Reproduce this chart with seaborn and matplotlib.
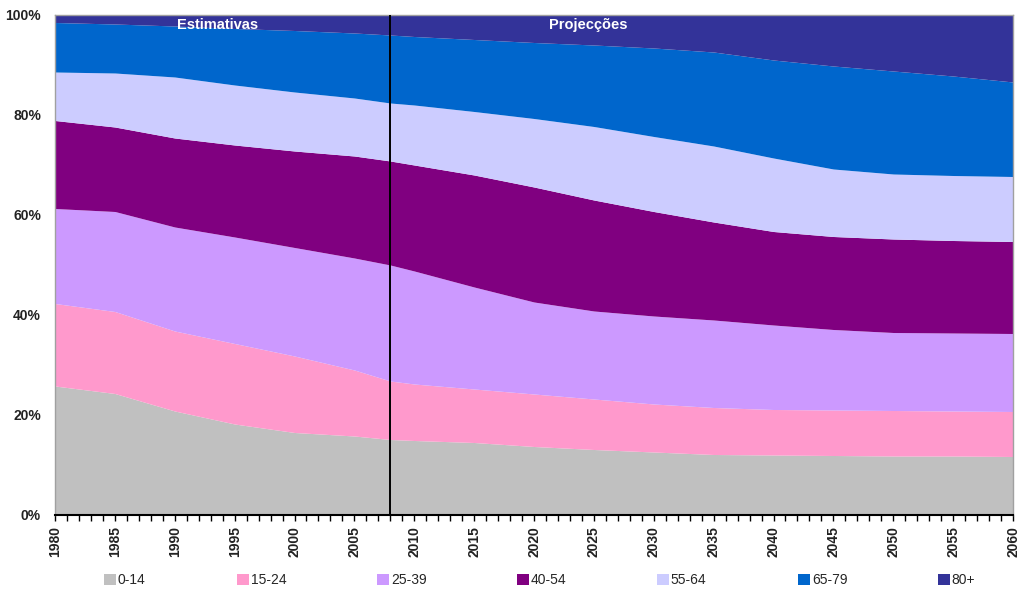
import numpy as np
import pandas as pd
import matplotlib
matplotlib.use("Agg")
import matplotlib.pyplot as plt
from matplotlib.patches import Patch
from matplotlib.ticker import MultipleLocator, FuncFormatter
import seaborn as sns

# Population structure by age group (% of total), estimates to 2008, projections after
years = [1980, 1985, 1990, 1995, 2000, 2005, 2008, 2010, 2015, 2020,
         2025, 2030, 2035, 2040, 2045, 2050, 2055, 2060]
age_groups = ["0-14", "15-24", "25-39", "40-54", "55-64", "65-79", "80+"]

g_0_14 = [25.8, 24.3, 20.8, 18.2, 16.5, 15.8, 15.1, 14.9, 14.5, 13.7,
          13.1, 12.6, 12.1, 12.0, 11.9, 11.8, 11.8, 11.7]
g_15_24 = [16.5, 16.4, 16.0, 16.1, 15.3, 13.2, 11.7, 11.3, 10.7, 10.5,
           10.1, 9.6, 9.4, 9.1, 9.1, 9.1, 9.0, 9.0]
g_25_39 = [19.0, 20.0, 20.8, 21.3, 21.7, 22.4, 23.2, 22.6, 20.4, 18.4,
           17.6, 17.6, 17.5, 16.9, 16.1, 15.6, 15.6, 15.6]
g_40_54 = [17.6, 16.9, 17.8, 18.4, 19.3, 20.4, 20.8, 21.2, 22.4, 23.0,
           22.2, 20.9, 19.6, 18.7, 18.6, 18.7, 18.5, 18.4]
g_55_64 = [9.7, 10.8, 12.2, 12.0, 11.8, 11.6, 11.6, 12.0, 12.7, 13.7,
           14.7, 15.0, 15.2, 14.7, 13.5, 13.0, 13.0, 13.0]
g_65_79 = [9.9, 9.8, 10.2, 11.3, 12.3, 13.0, 13.6, 13.7, 14.4, 15.2,
           16.3, 17.7, 18.8, 19.6, 20.6, 20.6, 19.9, 18.9]
g_80p = [1.5, 1.8, 2.2, 2.7, 3.1, 3.6, 4.0, 4.3, 4.9, 5.5,
         6.0, 6.6, 7.4, 9.0, 10.2, 11.2, 12.2, 13.4]

split_year = 2008
period_labels = ["Estimativas", "Projecções"]

colors = ["#C0C0C0", "#FF99CC", "#CC99FF", "#800080", "#CCCCFF", "#0066CC", "#333399"]

sns.set_theme(style="white")
plt.rcParams["font.family"] = ["Liberation Sans", "DejaVu Sans"]

df = pd.DataFrame({"year": years, "0-14": g_0_14, "15-24": g_15_24, "25-39": g_25_39,
                   "40-54": g_40_54, "55-64": g_55_64, "65-79": g_65_79, "80+": g_80p})
shares = df[age_groups].to_numpy().T
shares = shares / shares.sum(axis=0) * 100  # normalise to a 100% stack

fig = plt.figure(figsize=(10.17, 5.89), dpi=100)
ax = fig.add_axes([55 / 1017, 1 - 515 / 589, 958 / 1017, 500 / 589])

ax.stackplot(df["year"], shares, colors=colors, labels=age_groups, linewidth=0)
ax.axvline(split_year, color="black", lw=1.4, zorder=5)

ax.set_xlim(1980, 2060)
ax.set_ylim(0, 100)

ax.xaxis.set_major_locator(MultipleLocator(5))
ax.xaxis.set_minor_locator(MultipleLocator(1))
ax.yaxis.set_major_locator(MultipleLocator(20))
ax.yaxis.set_major_formatter(FuncFormatter(lambda v, p: f"{int(v)}%"))
ax.tick_params(axis="x", which="both", direction="out", length=4, width=1,
               color="black", bottom=True, rotation=90, labelsize=10,
               labelcolor="#222222", pad=4)
ax.tick_params(axis="y", left=False, length=0, labelsize=10,
               labelcolor="#222222", pad=10)
for lab in ax.get_xticklabels():
    lab.set_fontweight("bold")
for lab in ax.get_yticklabels():
    lab.set_fontweight("bold")
ax.grid(False)

for side in ["left", "top", "right"]:
    ax.spines[side].set_color("#A0A0A0")
    ax.spines[side].set_linewidth(1)
ax.spines["bottom"].set_color("black")
ax.spines["bottom"].set_linewidth(1.5)

ax.text(1993.6, 98.0, period_labels[0], color="white", fontsize=10.5,
        fontweight="bold", ha="center", va="center", zorder=6)
ax.text(2024.5, 98.0, period_labels[1], color="white", fontsize=10.5,
        fontweight="bold", ha="center", va="center", zorder=6)

# Legend entries at evenly spaced positions along the bottom
legend_x = [108, 241, 381, 521, 661, 802, 942]
for x0, lab, col in zip(legend_x, age_groups, colors):
    fig.legend([Patch(facecolor=col, edgecolor="none")], [lab],
               loc="center left", bbox_to_anchor=(x0 / 1017 - 0.004, 1 - 580 / 589),
               frameon=False, fontsize=10, handlelength=0.85, handleheight=0.85,
               handletextpad=0.15, borderpad=0, borderaxespad=0)

fig.savefig("out.png", dpi=100)
